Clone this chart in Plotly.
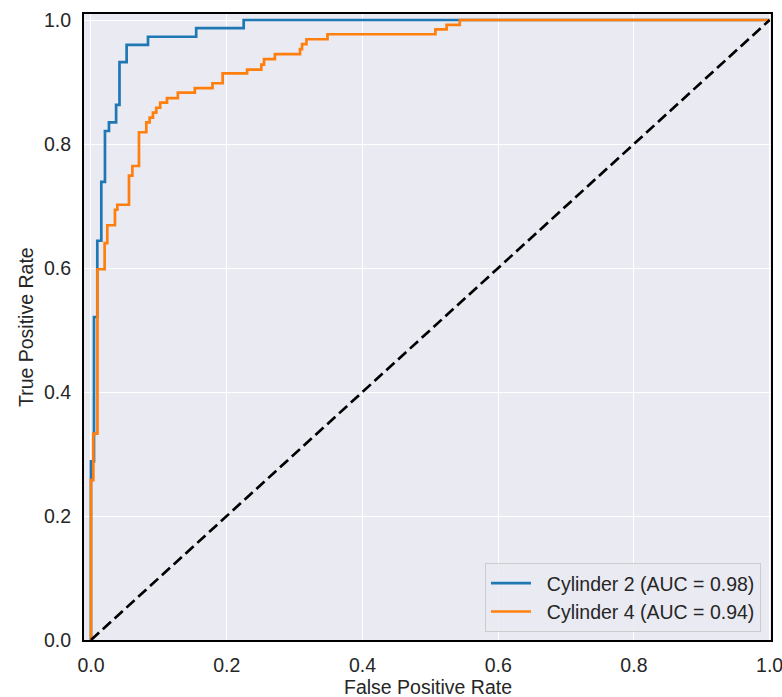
import plotly.graph_objects as go

# ROC corner points (fpr where the curve rises, tpr reached)
cyl2_fpr = [0, 0, 0.0044, 0.0093, 0.0152, 0.0206, 0.0265, 0.037, 0.042, 0.0525, 0.084, 0.155, 0.225, 1.0]
cyl2_tpr = [0, 0.288, 0.521, 0.644, 0.739, 0.821, 0.835, 0.863, 0.932, 0.960, 0.973, 0.987, 1.0, 1.0]

cyl4_fpr = [0, 0, 0.0034, 0.0095, 0.0201, 0.024, 0.0353, 0.0388, 0.056, 0.061, 0.0707, 0.0815,
            0.0864, 0.0913, 0.0962, 0.102, 0.112, 0.128, 0.153, 0.179, 0.194, 0.230, 0.251,
            0.255, 0.271, 0.308, 0.311, 0.3175, 0.3485, 0.5075, 0.524, 0.5434, 1.0]
cyl4_tpr = [0, 0.258, 0.333, 0.598, 0.640, 0.669, 0.694, 0.702, 0.749, 0.7645, 0.819, 0.835,
            0.8425, 0.8505, 0.8585, 0.8666, 0.874, 0.8828, 0.890, 0.898, 0.914, 0.920, 0.928,
            0.937, 0.945, 0.953, 0.961, 0.969, 0.977, 0.985, 0.992, 1.0, 1.0]

series_names = ["Cylinder 2 (AUC = 0.98)", "Cylinder 4 (AUC = 0.94)"]
x_title = "False Positive Rate"
y_title = "True Positive Rate"
chance_x = [0, 1]
chance_y = [0, 1]
tick_vals = [0.0, 0.2, 0.4, 0.6, 0.8, 1.0]
tick_text = ["0.0", "0.2", "0.4", "0.6", "0.8", "1.0"]

FONT = "Liberation Sans, Arial, sans-serif"
TXT = "#262626"
FS = 19.5
PAD = "\u00a0\u00a0"

fig = go.Figure()
fig.add_trace(go.Scatter(x=cyl2_fpr, y=cyl2_tpr, mode="lines", line_shape="hv",
                         name=PAD + series_names[0], line=dict(color="#1f77b4", width=2.7)))
fig.add_trace(go.Scatter(x=cyl4_fpr, y=cyl4_tpr, mode="lines", line_shape="hv",
                         name=PAD + series_names[1], line=dict(color="#ff7f0e", width=2.7)))
fig.add_trace(go.Scatter(x=chance_x, y=chance_y, mode="lines", showlegend=False,
                         line=dict(color="black", width=2.7, dash="11px,5px")))

axis_common = dict(
    automargin=False,
    showgrid=True, gridcolor="white", gridwidth=1.2,
    zeroline=False, showline=True, linecolor="black", linewidth=2, mirror=True,
    ticks="outside", ticklen=7, tickcolor="rgba(0,0,0,0)",
    tickvals=tick_vals, ticktext=tick_text,
    tickfont=dict(family=FONT, size=FS, color=TXT),
    ticklabeloverflow="allow",
)

fig.update_layout(
    width=782, height=697,
    margin=dict(l=84, r=11, t=14, b=57),
    paper_bgcolor="white", plot_bgcolor="#EAEAF2",
    font=dict(family=FONT, size=FS, color=TXT),
    xaxis=dict(range=[-0.0103, 1.002], **axis_common),
    yaxis=dict(range=[0, 1.0097], **axis_common),
    legend=dict(x=0.9854, y=0.0128, xanchor="right", yanchor="bottom",
                bgcolor="rgba(234,234,242,0.85)", bordercolor="#CCCCCC", borderwidth=1,
                font=dict(family=FONT, size=FS, color=TXT), itemwidth=40,
                tracegroupgap=0),
    showlegend=True,
    annotations=[
        dict(text=x_title, xref="paper", yref="paper", x=0.5, y=-0.0751,
             xanchor="center", yanchor="middle", showarrow=False,
             font=dict(family=FONT, size=FS, color=TXT)),
        dict(text=y_title, xref="paper", yref="paper", x=-0.0844, y=0.5,
             xanchor="center", yanchor="middle", textangle=-90, showarrow=False,
             font=dict(family=FONT, size=FS, color=TXT)),
    ],
)

fig.write_html(
    "out.html",
    config={"displayModeBar": False},
    post_script="document.body.style.margin='0';document.documentElement.style.overflow='hidden';",
)
